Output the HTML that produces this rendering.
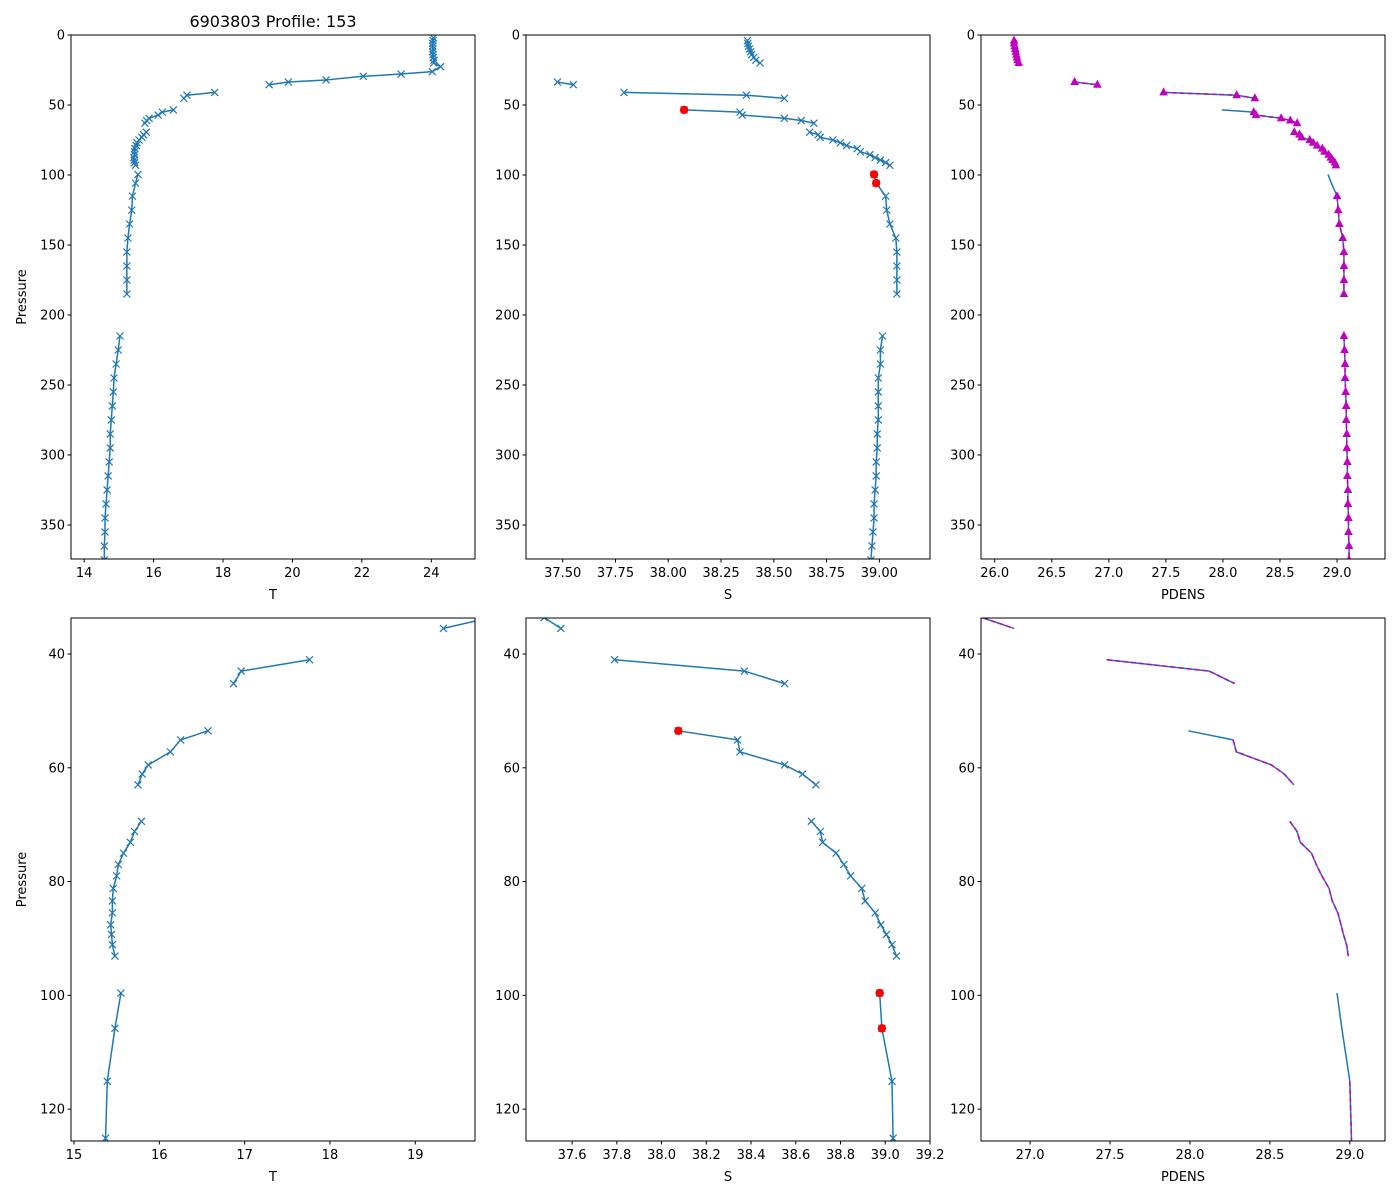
<!DOCTYPE html>
<html><head><meta charset="utf-8"><style>
html,body{margin:0;padding:0;background:#fff;width:1400px;height:1200px;overflow:hidden;position:relative;}
svg{position:absolute;left:0;top:0;display:block;overflow:hidden;font-family:"DejaVu Sans","Liberation Sans",sans-serif;}
script{display:none;}
</style></head><body>
<svg id="fig" width="1400" height="1200" viewBox="0 0 1400 1200" xmlns="http://www.w3.org/2000/svg">
<rect width="1400" height="1200" fill="#fff"/>
<text x="273" y="27" font-size="16" text-anchor="middle">6903803 Profile: 153</text>
</svg>
<script>
const pres = [2,4,6,8,10,12,14,16,18,20,22.6,26.2,27.9,29.5,32.1,33.6,35.5,38,41.0,43.0,45.2,49,53.5,55.1,57.2,59.5,61.1,63.0,66,69.4,71.2,73.1,75.0,77.0,79.0,81.2,83.4,85.5,87.6,89.3,91.1,93.1,96,99.6,105.8,115.1,125.1,135,145,155,165,175,185,200,215,225,235,245,255,265,275,285,295,305,315,325,335,345,355,365,375];
const temp = [24.06,24.05,24.04,24.04,24.05,24.04,24.05,24.06,24.08,24.07,24.27,24.03,23.13,22.04,20.97,19.88,19.33,NaN,17.76,16.96,16.87,NaN,16.57,16.25,16.13,15.87,15.80,15.75,NaN,15.79,15.71,15.66,15.58,15.52,15.50,15.46,15.45,15.45,15.43,15.44,15.45,15.48,NaN,15.55,15.48,15.39,15.37,15.31,15.26,15.23,15.23,15.23,15.23,NaN,15.03,14.98,14.92,14.86,14.84,14.81,14.78,14.75,14.75,14.72,14.69,14.66,14.63,14.60,14.60,14.58,14.58];
const sal = [NaN,38.375,38.377,38.38,38.385,38.39,38.395,38.405,38.415,38.435,NaN,NaN,NaN,NaN,NaN,37.475,37.55,NaN,37.79,38.37,38.55,NaN,38.075,38.34,38.35,38.55,38.63,38.69,NaN,38.67,38.71,38.72,38.78,38.815,38.845,38.895,38.91,38.955,38.98,39.005,39.03,39.05,NaN,38.975,38.985,39.03,39.035,39.05,39.078,39.083,39.083,39.083,39.083,NaN,39.015,39.005,39.005,38.995,38.995,38.995,38.995,38.99,38.99,38.985,38.985,38.98,38.975,38.975,38.97,38.965,38.96];
const densCalc = [NaN,26.17,26.17,26.175,26.18,26.185,26.19,26.195,26.2,26.21,NaN,NaN,NaN,NaN,NaN,26.70,26.90,NaN,27.48,28.12,28.28,NaN,27.99,28.27,28.29,28.51,28.59,28.65,NaN,28.625,28.67,28.69,28.76,28.79,28.825,28.87,28.89,28.925,28.945,28.96,28.98,28.99,NaN,28.92,28.95,29.0,29.01,29.02,29.05,29.06,29.06,29.06,29.06,NaN,29.06,29.065,29.07,29.07,29.075,29.08,29.08,29.085,29.085,29.09,29.09,29.095,29.095,29.10,29.10,29.105,29.105];
const flagged = [53.5,99.6,105.8];
const xTicksT1 = [14,16,18,20,22,24];
const xTicksS1 = [37.50,37.75,38.00,38.25,38.50,38.75,39.00];
const xTicksD1 = [26.0,26.5,27.0,27.5,28.0,28.5,29.0];
const yTicks1 = [0,50,100,150,200,250,300,350];
const xTicksT2 = [15,16,17,18,19];
const xTicksS2 = [37.6,37.8,38.0,38.2,38.4,38.6,38.8,39.0,39.2];
const xTicksD2 = [27.0,27.5,28.0,28.5,29.0];
const yTicks2 = [40,60,80,100,120];

const NS="http://www.w3.org/2000/svg";
const svg=document.getElementById('fig');
function mk(tag,attrs,parent){const e=document.createElementNS(NS,tag);for(const k in attrs)e.setAttribute(k,attrs[k]);(parent||svg).appendChild(e);return e;}
const densMag = densCalc.map((d,i)=>flagged.includes(pres[i])?NaN:d);
let clipId=0;
function panel(name,L,T,W,H,xmin,xmax,ymin,ymax,xt,yt,xlabel,fmt,showYLabel){
  const g=mk('g',{});
  
  
  const sx=v=>L+(v-xmin)/(xmax-xmin)*W;
  const sy=v=>T+(v-ymin)/(ymax-ymin)*H;
  const cid='c'+(clipId++);
  const cp=mk('clipPath',{id:cid},g);mk('rect',{x:L,y:T,width:W,height:H},cp);
  const plot=mk('g',{'clip-path':'url(#'+cid+')'},g);
  
  
  return {g,plot,sx,sy,L,T,W,H,finish(){
    mk('rect',{x:L,y:T,width:W,height:H,fill:'none',stroke:'#000','stroke-width':1},g);
    xt.forEach(v=>{const x=sx(v);
      mk('line',{x1:x,x2:x,y1:T+H,y2:T+H+3.5,stroke:'#000'},g);
      const t=mk('text',{x:x,y:T+H+18,'font-size':13,'text-anchor':'middle'},g);t.textContent=fmt(v);
      
      });
    yt.forEach(v=>{const y=sy(v);
      mk('line',{x1:L-3.5,x2:L,y1:y,y2:y,stroke:'#000'},g);
      const t=mk('text',{x:L-6,y:y+4.5,'font-size':13,'text-anchor':'end'},g);t.textContent=v;
      
      });
    const xl=mk('text',{x:L+W/2,y:T+H+40,'font-size':13,'text-anchor':'middle'},g);xl.textContent=xlabel;
    
    
    if(showYLabel){const yl=mk('text',{x:0,y:0,'font-size':13,'text-anchor':'middle',transform:`translate(26,${T+H/2}) rotate(-90)`},g);yl.textContent='Pressure';
      
      }
  }};
}
// clip segment to panel rect (Liang-Barsky)
function clipSeg(P,x0,y0,x1,y1){
  const xmin=P.L,xmax=P.L+P.W,ymin=P.T,ymax=P.T+P.H;
  let t0=0,t1=1;const dx=x1-x0,dy=y1-y0;
  const p=[-dx,dx,-dy,dy],q=[x0-xmin,xmax-x0,y0-ymin,ymax-y0];
  for(let i=0;i<4;i++){
    if(p[i]===0){if(q[i]<0)return null;}
    else{const r=q[i]/p[i];
      if(p[i]<0){if(r>t1)return null;if(r>t0)t0=r;}
      else{if(r<t0)return null;if(r<t1)t1=r;}}
  }
  return [x0+t0*dx,y0+t0*dy,x0+t1*dx,y0+t1*dy];
}
function linePath(P,xs,ys,color,dash,w){
  let d='',last=null;
  for(let i=1;i<pres.length;i++){
    const a=xs[i-1],b=xs[i];
    if(isNaN(a)||isNaN(b))continue;
    const c=clipSeg(P,P.sx(a),P.sy(pres[i-1]),P.sx(b),P.sy(pres[i]));
    if(!c)continue;
    const s=c[0].toFixed(2)+' '+c[1].toFixed(2);
    if(last!==s)d+='M'+s;
    const e=c[2].toFixed(2)+' '+c[3].toFixed(2);
    d+='L'+e;last=e;
  }
  if(!d)return;
  const el=mk('path',{d:d,fill:'none',stroke:color,'stroke-width':w||1.5,'stroke-dasharray':dash||'none','stroke-linejoin':'round'},P.plot);
  
  
}
function inside(P,x,y){return x>=P.L-4&&x<=P.L+P.W+4&&y>=P.T-4&&y<=P.T+P.H+4;}
function xMarks(P,xs){
  for(let i=0;i<pres.length;i++){const v=xs[i];if(isNaN(v))continue;
    const x=P.sx(v),y=P.sy(pres[i]),r=3.5;
    if(!inside(P,x,y))continue;
    const e=mk('path',{d:`M${x-r} ${y-r}L${x+r} ${y+r}M${x-r} ${y+r}L${x+r} ${y-r}`,stroke:'#1f77b4','stroke-width':1.2,fill:'none'},P.plot);
    
    }
}
function triMarks(P,xs){
  for(let i=0;i<pres.length;i++){const v=xs[i];if(isNaN(v))continue;
    const x=P.sx(v),y=P.sy(pres[i]);
    if(!inside(P,x,y))continue;
    const e=mk('path',{d:`M${x} ${y-5}L${x+4.3} ${y+3}L${x-4.3} ${y+3}Z`,fill:'#bf00bf'},P.plot);
    
    }
}
function redMarks(P){
  for(let i=0;i<pres.length;i++){if(!flagged.includes(pres[i])||isNaN(sal[i]))continue;
    const x=P.sx(sal[i]),y=P.sy(pres[i]);
    if(!inside(P,x,y))continue;
    const e=mk('circle',{cx:x,cy:y,r:4.2,fill:'#ff0000'},P.plot);
    
    }
}
const f0=v=>String(v), f2=v=>v.toFixed(2), f1=v=>v.toFixed(1);
let P=panel('temperature-panel-full',71,35,404,524,13.62,25.26,0,374.3,xTicksT1,yTicks1,'T',f0,true);
linePath(P,temp,null,'#1f77b4');xMarks(P,temp);P.finish();
P=panel('salinity-panel-full',526,35,404,524,37.326,39.24,0,374.3,xTicksS1,yTicks1,'S',f2,false);
linePath(P,sal,null,'#1f77b4');xMarks(P,sal);redMarks(P);P.finish();
P=panel('density-panel-full',981,35,404,524,25.88,29.42,0,374.3,xTicksD1,yTicks1,'PDENS',f1,false);
linePath(P,densCalc,null,'#1f77b4');linePath(P,densMag,null,'#bf00bf','5 3');triMarks(P,densMag);P.finish();
P=panel('temperature-panel-zoom',71,618,404,523,14.965,19.70,33.67,125.6,xTicksT2,yTicks2,'T',f0,true);
linePath(P,temp,null,'#1f77b4');xMarks(P,temp);P.finish();
P=panel('salinity-panel-zoom',526,618,404,523,37.394,39.2,33.67,125.6,xTicksS2,yTicks2,'S',f1,false);
linePath(P,sal,null,'#1f77b4');xMarks(P,sal);redMarks(P);P.finish();
P=panel('density-panel-zoom',981,618,404,523,26.693,29.22,33.67,125.6,xTicksD2,yTicks2,'PDENS',f1,false);
linePath(P,densCalc,null,'#1f77b4');linePath(P,densMag,null,'#bf00bf','5 3');P.finish();
</script>
</body></html>
